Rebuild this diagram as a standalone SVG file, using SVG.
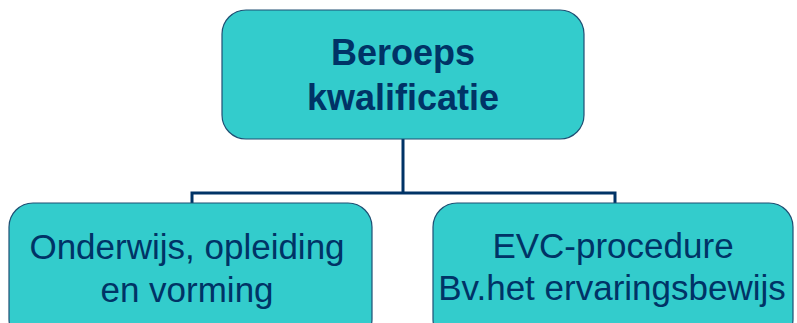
<svg xmlns="http://www.w3.org/2000/svg" width="797" height="323" viewBox="0 0 797 323">
<style>
.box{fill:#33CCCC;stroke:#1f4f73;stroke-width:1.2}
.t{font-family:"Liberation Sans",Arial,sans-serif;fill:#003366;text-anchor:middle}
.b{font-weight:bold;font-size:36px}
.n{font-size:35px}
.c{fill:none;stroke:#003366;stroke-width:3}
</style>
<rect width="797" height="323" fill="#ffffff"/>
<g id="connectors">
<path class="c" d="M403 139 V193 M192 193 H615 M192 191.5 V203 M615 191.5 V203"/>
</g>
<g id="node-top">
<rect class="box" x="222" y="10" width="362" height="129" rx="24"/>
<text class="t b" x="403" y="65">Beroeps</text>
<text class="t b" x="403" y="110">kwalificatie</text>
</g>
<g id="node-left">
<rect class="box" x="9" y="203" width="363" height="140" rx="24"/>
<text class="t n" x="187" y="259">Onderwijs, opleiding</text>
<text class="t n" x="187" y="302">en vorming</text>
</g>
<g id="node-right">
<rect class="box" x="433" y="203" width="360" height="140" rx="24"/>
<text class="t n" x="613" y="258">EVC-procedure</text>
<text class="t n" x="612" y="300">Bv.het ervaringsbewijs</text>
</g>
</svg>
